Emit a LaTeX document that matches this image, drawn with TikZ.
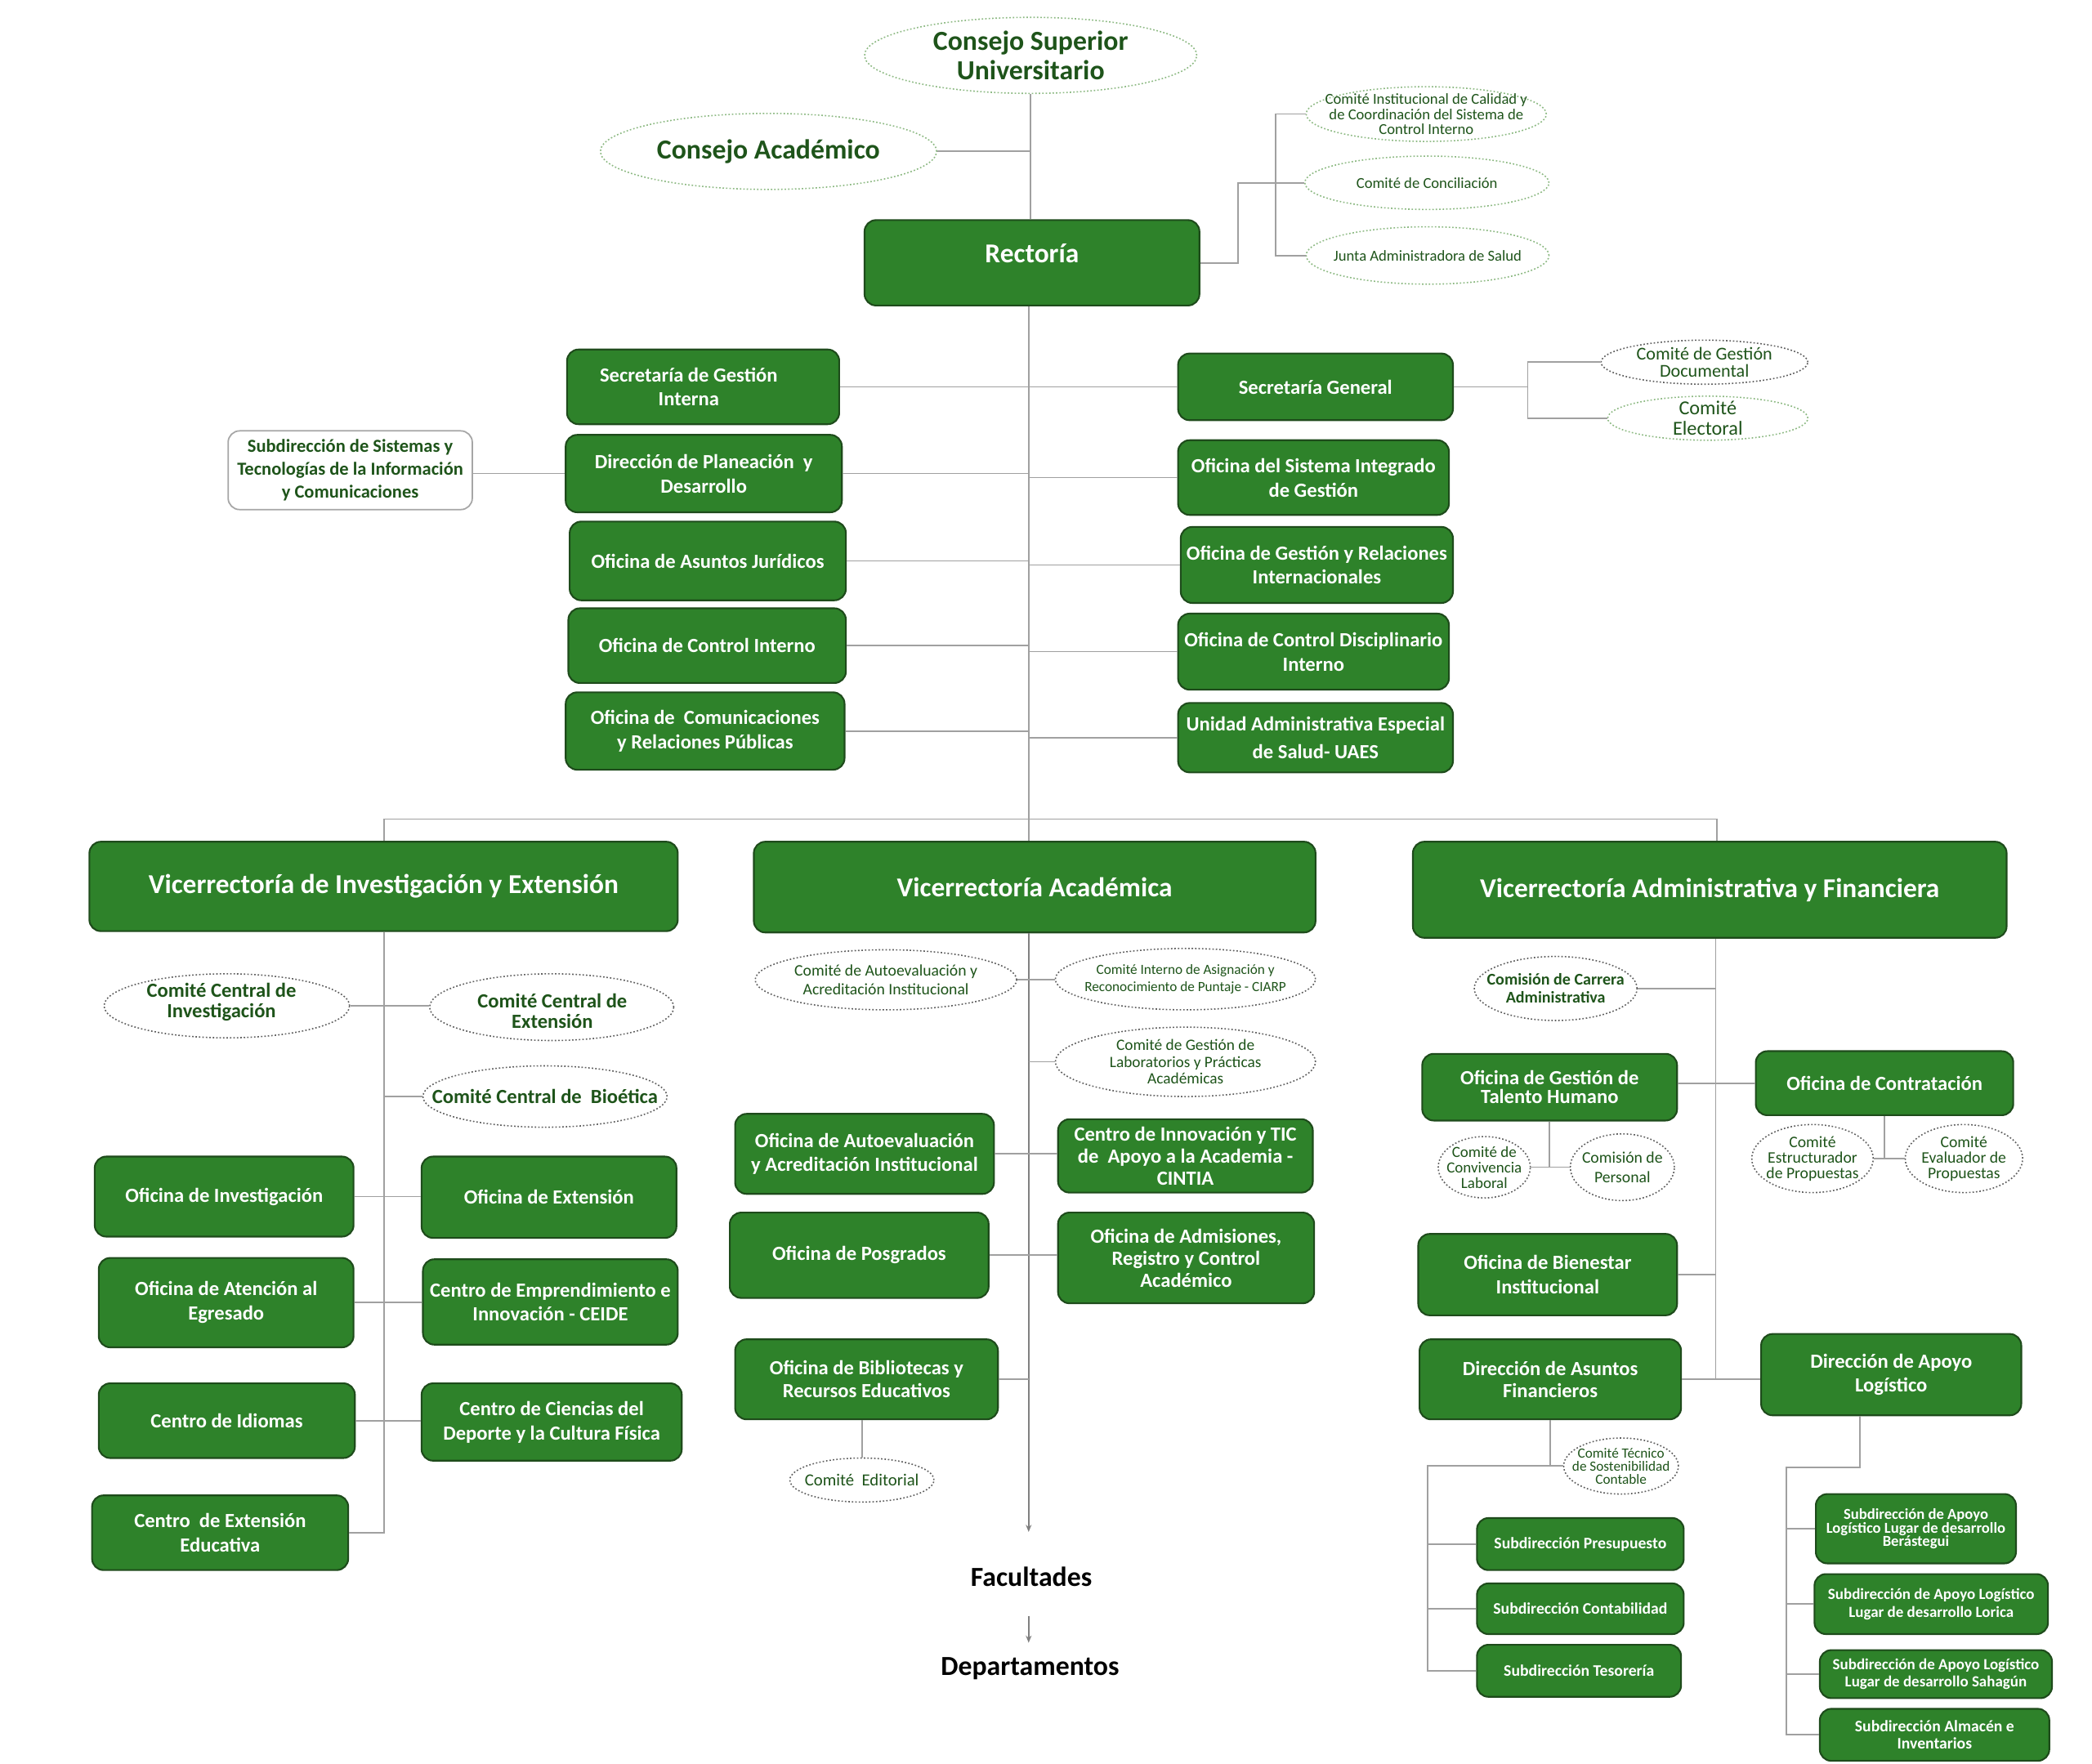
\documentclass[tikz,border=0pt]{standalone}
\usepackage{fontspec}
\setmainfont{Carlito}
\usetikzlibrary{shapes.geometric,arrows.meta}
\definecolor{boxgreen}{RGB}{46,130,42}
\definecolor{boxborder}{RGB}{30,75,27}
\definecolor{dkgreen}{RGB}{30,84,26}
\definecolor{ellgreen}{RGB}{140,185,130}
\definecolor{ellgray}{RGB}{95,95,95}
\definecolor{linegray}{RGB}{160,160,160}
\def\pxu{0.016327cm}
\newcommand\bx[6]{\node[#6, minimum width={(#4-#2)*\pxu}, minimum height={(#5-#3)*\pxu}] (#1) at ({(#2+#4)/2},{(#3+#5)/2})}
\tikzset{
 gbox/.style={draw=boxborder, line width=0.6pt, fill=boxgreen, rounded corners=4pt, inner sep=0pt, text=white, align=center, font=\bfseries\fontsize{7}{8.5}\selectfont},
 hbox/.style={gbox, font=\bfseries\fontsize{9.5}{11}\selectfont},
 sbox/.style={gbox, font=\bfseries\fontsize{5.6}{6.4}\selectfont},
 tbox/.style={gbox, font=\bfseries\fontsize{5.4}{6.3}\selectfont},
 wbox/.style={draw=gray!70, line width=0.5pt, fill=white, rounded corners=4pt, inner sep=0pt, text=dkgreen, align=center, font=\bfseries\fontsize{6.4}{8}\selectfont},
 ell/.style={ellipse, draw=ellgray, line width=0.45pt, dash pattern=on 0.5pt off 0.7pt, inner sep=0pt},
 ellg/.style={ell, draw=ellgreen},
 etext/.style={text=dkgreen, align=center, inner sep=0pt, font=\fontsize{5.3}{5.8}\selectfont},
 btext/.style={etext, font=\bfseries\fontsize{7}{7.2}\selectfont},
 bigtext/.style={etext, font=\bfseries\fontsize{9.6}{10.3}\selectfont},
 link/.style={draw=linegray, line width=0.5pt},
 arr/.style={draw=gray, line width=0.5pt, -{Stealth[length=2.5pt,width=2pt]}},
 lvl/.style={inner sep=0pt, text=black, font=\bfseries\fontsize{9.6}{11}\selectfont},
}
\begin{document}
\begin{tikzpicture}[x=\pxu, y=-\pxu]
\fill[white] (0,0) rectangle (1568,1322);
\useasboundingbox (0,0) rectangle (1568,1322);

% ---------- top ----------
\bx{csu}{648}{13}{897}{70}{ellg} {};
\node[bigtext] (csut) at (csu) {Consejo Superior\\Universitario};
\bx{ca}{450}{85}{702}{142}{ellg} {};
\node[bigtext] (cat) at (ca) {Consejo Académico};
\bx{rect}{648}{165}{899}{229}{hbox} {\raisebox{6.5pt}{Rectoría}};
\bx{c1}{979}{65}{1159}{106}{ellg} {};
\node[etext, font=\fontsize{5.3}{5.2}\selectfont] (c1t) at (c1) {Comité Institucional de Calidad y\\de Coordinación del Sistema de\\Control Interno};
\bx{c2}{978}{117}{1161}{157}{ellg} {};
\node[etext] (c2t) at (c2) {Comité de Conciliación};
\bx{c3}{979}{170}{1161}{213}{ellg} {};
\node[etext] (c3t) at (c3) {Junta Administradora de Salud};

% ---------- rectoria left ----------
\bx{sgi}{425}{262}{629}{318}{gbox} {Secretaría de Gestión\hspace*{10pt}\\Interna\hspace*{10pt}};
\bx{dpd}{424}{326}{631}{384}{gbox} {Dirección de Planeación~~y\\Desarrollo};
\bx{oaj}{427}{391}{634}{450}{gbox} {Oficina de Asuntos Jurídicos};
\bx{oci}{426}{456}{634}{512}{gbox} {Oficina de Control Interno};
\bx{ocr}{424}{519}{633}{577}{gbox} {Oficina de~~Comunicaciones\\y Relaciones Públicas};
\bx{ssti}{171}{323}{354}{382}{wbox} {Subdirección de Sistemas y\\Tecnologías de la Información\\y Comunicaciones};

% ---------- rectoria right ----------
\bx{sg}{883}{265}{1089}{315}{gbox} {Secretaría General};
\bx{osig}{883}{330}{1086}{386}{gbox} {Oficina del Sistema Integrado\\de Gestión};
\bx{ogri}{885}{395}{1089}{452}{gbox} {Oficina de Gestión y Relaciones\\Internacionales};
\bx{ocdi}{883}{460}{1086}{517}{gbox} {Oficina de Control Disciplinario\\Interno};
\bx{uaes}{883}{527}{1089}{579}{gbox, font=\bfseries\fontsize{7}{9.6}\selectfont} {Unidad Administrativa Especial\\de Salud- UAES};
\bx{cgd}{1200}{255}{1355}{288}{ell} {};
\node[etext, font=\fontsize{6.3}{6.1}\selectfont] (cgdt) at (cgd) {Comité de Gestión\\Documental};
\bx{ce}{1205}{297}{1355}{330}{ellg} {};
\node[etext, font=\fontsize{6.9}{7}\selectfont] (cet) at (ce) {Comité\\Electoral};

% ---------- vicerrectorias ----------
\bx{vie}{67}{631}{508}{698}{hbox} {Vicerrectoría de Investigación y Extensión};
\bx{va}{565}{631}{986}{699}{hbox} {Vicerrectoría Académica};
\bx{vaf}{1059}{631}{1504}{703}{hbox} {Vicerrectoría Administrativa y Financiera};

% ---------- VIE ----------
\bx{cci}{78}{730}{262}{778}{ell} {};
\node[btext] (ccit) at (166,751) {Comité Central de\\Investigación};
\bx{cce}{322}{730}{505}{780}{ell} {};
\node[btext] (ccet) at (414,758) {Comité Central de\\Extensión};
\bx{ccb}{317}{799}{500}{845}{ell} {};
\node[btext] (ccbt) at (ccb) {Comité Central de~~Bioética};
\bx{oi}{71}{867}{265}{927}{gbox} {Oficina de Investigación};
\bx{oe}{316}{867}{507}{928}{gbox} {Oficina de Extensión};
\bx{oae}{74}{943}{265}{1010}{gbox} {Oficina de Atención al\\Egresado};
\bx{ceide}{317}{944}{508}{1008}{gbox} {Centro de Emprendimiento e\\Innovación - CEIDE};
\bx{cid}{74}{1037}{266}{1093}{gbox} {Centro de Idiomas};
\bx{ccd}{316}{1037}{511}{1095}{gbox} {Centro de Ciencias del\\Deporte y la Cultura Física};
\bx{ceex}{69}{1121}{261}{1177}{gbox} {Centro~~de Extensión\\Educativa};

% ---------- VA ----------
\bx{caai}{566}{712}{762}{757}{ell} {};
\node[etext, font=\fontsize{5.6}{6.5}\selectfont] (caait) at (caai) {Comité de Autoevaluación y\\Acreditación Institucional};
\bx{ciarp}{791}{711}{986}{757}{ell} {};
\node[etext, font=\fontsize{4.9}{6}\selectfont] (ciarpt) at (ciarp) {Comité Interno de Asignación y\\Reconocimiento de Puntaje - CIARP};
\bx{cglp}{791}{770}{986}{822}{ell} {};
\node[etext, font=\fontsize{5.5}{5.8}\selectfont] (cglpt) at (cglp) {Comité de Gestión de\\Laboratorios y Prácticas\\Académicas};
\bx{oaai}{551}{835}{745}{895}{gbox, font=\bfseries\fontsize{7}{8}\selectfont} {Oficina de Autoevaluación\\y Acreditación Institucional};
\bx{cintia}{793}{839}{984}{894}{gbox, font=\bfseries\fontsize{7}{7.7}\selectfont} {Centro de Innovación y TIC\\de~~Apoyo a la Academia -\\CINTIA};
\bx{opos}{547}{909}{741}{973}{gbox} {Oficina de Posgrados};
\bx{oarc}{793}{909}{985}{977}{gbox, font=\bfseries\fontsize{7}{7.7}\selectfont} {Oficina de Admisiones,\\Registro y Control\\Académico};
\bx{obre}{551}{1004}{748}{1064}{gbox, font=\bfseries\fontsize{7}{8}\selectfont} {Oficina de Bibliotecas y\\Recursos Educativos};
\bx{ced}{592}{1093}{700}{1126}{ell} {};
\node[etext, font=\fontsize{5.9}{6.5}\selectfont] (cedt) at (ced) {Comité~~Editorial};
\node[lvl] (fac) at (773,1182) {Facultades};
\node[lvl] (dep) at (772,1251) {Departamentos};

% ---------- VAF ----------
\bx{cca}{1105}{717}{1227}{765}{ell} {};
\node[etext, font=\bfseries\fontsize{5.7}{6.2}\selectfont] (ccat) at (cca) {Comisión de Carrera\\Administrativa};
\bx{ogth}{1066}{790}{1257}{840}{gbox, font=\bfseries\fontsize{7}{6.6}\selectfont} {Oficina de Gestión de\\Talento Humano};
\bx{ocon}{1316}{788}{1509}{836}{gbox} {Oficina de Contratación};
\bx{ccl}{1078}{852}{1147}{898}{ell} {};
\node[etext, font=\fontsize{5.4}{5.4}\selectfont] (cclt) at (ccl) {Comité de\\Convivencia\\Laboral};
\bx{cper}{1177}{850}{1255}{900}{ell} {};
\node[etext, font=\fontsize{5.6}{7}\selectfont] (cpert) at (cper) {Comisión de\\Personal};
\bx{ces}{1313}{843}{1404}{894}{ell} {};
\node[etext, font=\fontsize{5.6}{5.4}\selectfont] (cest) at (ces) {Comité\\Estructurador\\de Propuestas};
\bx{cev}{1428}{843}{1516}{894}{ell} {};
\node[etext, font=\fontsize{5.6}{5.4}\selectfont] (cevt) at (cev) {Comité\\Evaluador de\\Propuestas};
\bx{obi}{1063}{925}{1257}{986}{gbox} {Oficina de Bienestar\\Institucional};
\bx{daf}{1064}{1004}{1260}{1064}{gbox, font=\bfseries\fontsize{7}{7.8}\selectfont} {Dirección de Asuntos\\Financieros};
\bx{dal}{1320}{1000}{1515}{1061}{gbox} {Dirección de Apoyo\\Logístico};
\bx{ctsc}{1172}{1078}{1258}{1120}{ell} {};
\node[etext, font=\fontsize{4.9}{4.6}\selectfont] (ctsct) at (ctsc) {Comité Técnico\\de Sostenibilidad\\Contable};
\bx{spre}{1107}{1138}{1262}{1177}{sbox} {Subdirección Presupuesto};
\bx{scon}{1107}{1187}{1262}{1225}{sbox} {Subdirección Contabilidad};
\bx{stes}{1107}{1233}{1260}{1272}{sbox} {Subdirección Tesorería};
\bx{sber}{1361}{1120}{1511}{1172}{tbox, font=\bfseries\fontsize{5.3}{4.7}\selectfont} {Subdirección de Apoyo\\Logístico Lugar de desarrollo\\Berástegui};
\bx{slor}{1360}{1180}{1535}{1225}{tbox} {Subdirección de Apoyo Logístico\\Lugar de desarrollo Lorica};
\bx{ssah}{1364}{1237}{1538}{1273}{tbox, font=\bfseries\fontsize{5.4}{6}\selectfont} {Subdirección de Apoyo Logístico\\Lugar de desarrollo Sahagún};
\bx{salm}{1364}{1281}{1536}{1320}{sbox, font=\bfseries\fontsize{5.6}{6}\selectfont} {Subdirección Almacén e\\Inventarios};

% ---------- helper coordinates ----------
\coordinate (sx) at (771,0);
\coordinate (rj) at (928,0);
\coordinate (cb) at (956,0);
\coordinate (gb) at (1145,0);
\coordinate (bl) at (288,614);
\coordinate (br) at (1287,614);
\coordinate (vx) at (288,0);
\coordinate (fx) at (1286,0);
\coordinate (fb) at (1070,0);
\coordinate (lj) at (1394,1100);
\coordinate (lb) at (1339,1100);

% ---------- connectors ----------
\draw[link] (csu.south) -- (csu.south |- rect.north);
\draw[link] (ca.east) -- (ca.east -| csu.south);
\draw[link] (rect.east) -- (rect.east -| rj) |- (c2.west);
\draw[link] (c1.west) -- (c1.west -| cb) -- (c3.west -| cb) -- (c3.west);
\foreach \n in {sgi,dpd,oaj,oci,ocr} \draw[link] (\n.east) -- (\n.east -| sx);
\foreach \n in {sg,osig,ogri,ocdi,uaes} \draw[link] (\n.west) -- (\n.west -| sx);
\draw[link] (ssti.east |- dpd.west) -- (dpd.west);
\draw[link] (sg.east) -- (sg.east -| gb);
\draw[link] (cgd.west) -- (cgd.west -| gb) -- (ce.west -| gb) -- (ce.west);
\draw[link] (rect.south -| sx) -- (va.north -| sx);
\draw[link] (vie.north -| bl) -- (bl) -- (br) -- (vaf.north -| br);
\draw[arr, shorten >=12pt] (va.south -| sx) -- (fac.north -| sx);
\draw[arr, shorten <=10pt, shorten >=5pt] (fac.south -| sx) -- (dep.north -| sx);
% VIE
\draw[link] (vie.south -| vx) -- (ceex.east -| vx) -- (ceex.east);
\draw[link] (cci.east) -- (cci.east -| cce.west);
\draw[link] (ccb.west) -- (ccb.west -| vx);
\draw[link] (oi.east) -- (oi.east -| oe.west);
\draw[link] (oae.east) -- (oae.east -| ceide.west);
\draw[link] (cid.east) -- (cid.east -| ccd.west);
% VA
\draw[link] (caai.east) -- (caai.east -| ciarp.west);
\draw[link] (cglp.west) -- (cglp.west -| sx);
\draw[link] (oaai.east) -- (oaai.east -| cintia.west);
\draw[link] (opos.east) -- (opos.east -| oarc.west);
\draw[link] (obre.east) -- (obre.east -| sx);
\draw[link] (obre.south -| ced.north) -- (ced.north);
% VAF
\draw[link] (vaf.south -| fx) -- (daf.east -| fx);
\draw[link] (cca.east) -- (cca.east -| fx);
\draw[link] (ocon.west -| ogth.east) -- (ocon.west);
\draw[link] (obi.east) -- (obi.east -| fx);
\draw[link] (daf.east) -- (daf.east -| dal.west);
\draw[link] (ogth.south) -- (ogth.south |- ccl.east);
\draw[link] (ccl.east) -- (ccl.east -| cper.west);
\draw[link] (ocon.south) -- (ocon.south |- ces.east);
\draw[link] (ces.east) -- (ces.east -| cev.west);
\draw[link] (daf.south) -- (daf.south |- ctsc.west);
\draw[link] (ctsc.west) -- (ctsc.west -| fb) -- (stes.west -| fb) -- (stes.west);
\draw[link] (spre.west) -- (spre.west -| fb);
\draw[link] (scon.west) -- (scon.west -| fb);
\draw[link] (dal.south -| lj) -- (lj) -- (lb) -- (salm.west -| lb) -- (salm.west);
\foreach \n in {sber,slor,ssah} \draw[link] (\n.west) -- (\n.west -| lb);
\end{tikzpicture}
\end{document}
